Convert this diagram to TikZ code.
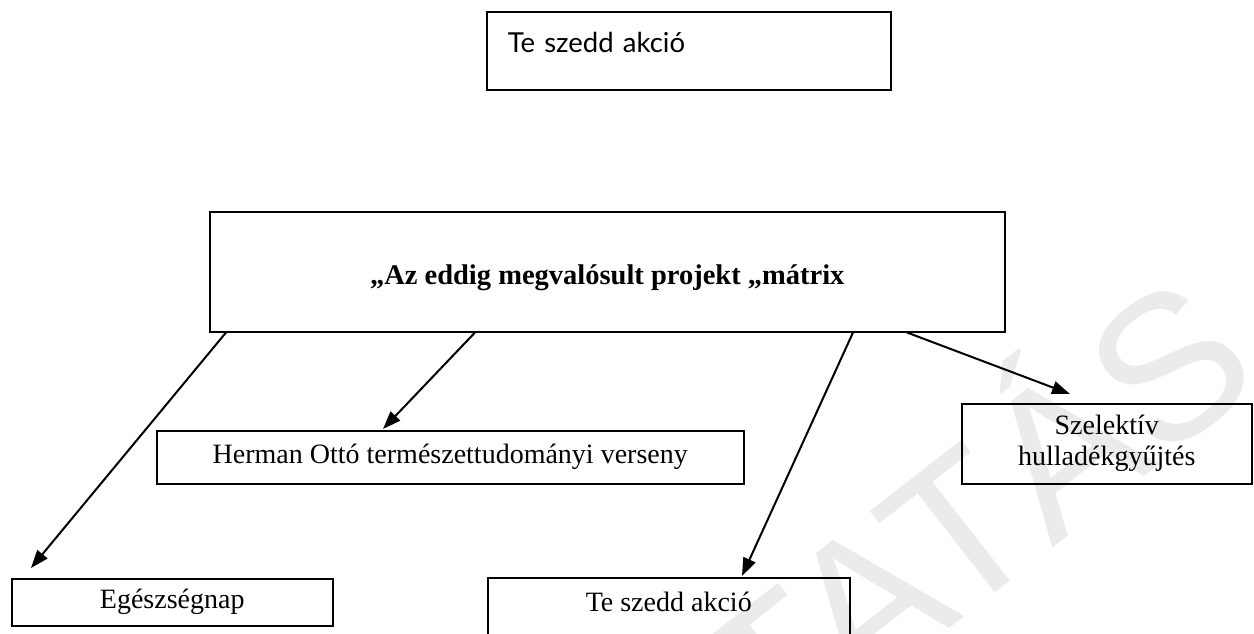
\documentclass[tikz,border=0pt]{standalone}
\usepackage{fontspec}
\setmainfont{Liberation Serif}
\newfontfamily\gillfont{Lato}
\newfontfamily\wmfont{Liberation Sans}
\usetikzlibrary{arrows.meta,calc}
\begin{document}
\begin{tikzpicture}[x=1pt,y=-1pt,
  box/.style={draw=black,line width=1.5pt,rectangle,inner sep=0pt,anchor=north west,font=\fontsize{28}{30}\selectfont},
  arr/.style={line width=2pt,-{Triangle[length=18pt,width=13pt]}}]
\useasboundingbox (0,0) rectangle (1254,633);
\clip (0,0) rectangle (1254,633);
% watermark
\node[rotate=38,text=black!8,font=\fontsize{205}{205}\wmfont] (wm) at (965,505) {TATÁS};
% boxes
\node[box,text width=362pt,align=left,inner xsep=21pt,text height=41pt,text depth=37pt,font=\fontsize{27.5}{27.5}\gillfont] (top) at (486,11) {Te szedd akció};
\node[box,minimum width=795pt,minimum height=120pt,text height=73pt,text depth=47pt,font=\fontsize{28.5}{28.5}\selectfont\bfseries] (main) at (209,211) {„Az eddig megvalósult projekt „mátrix};
\node[box,minimum width=587pt,minimum height=53pt] (herman) at (156,430) {Herman Ottó természettudományi verseny};
\node[box,minimum width=290pt,minimum height=80pt,align=center,font=\fontsize{28}{31}\selectfont] (szel) at (961,403) {Szelektív\\hulladékgyűjtés};
\node[box,minimum width=321pt,minimum height=47pt,text height=30pt,text depth=17pt] (ege) at (11,578) {Egészségnap};
\node[box,minimum width=362pt,text height=34pt,text depth=60pt] (te) at (487,577) {Te szedd akció};
% arrows
\draw[arr] ($(main.south west)+(17,0)$) -- ($(ege.north west)+(20,-10)$);
\draw[arr] ($(main.south west)+(266,0)$) -- ($(herman.north west)+(227,-1)$);
\draw[arr] ($(main.south west)+(644,0)$) -- ($(te.north west)+(255,-1)$);
\draw[arr] ($(main.south west)+(698,0)$) -- ($(szel.north west)+(109,-9)$);
\end{tikzpicture}
\end{document}
